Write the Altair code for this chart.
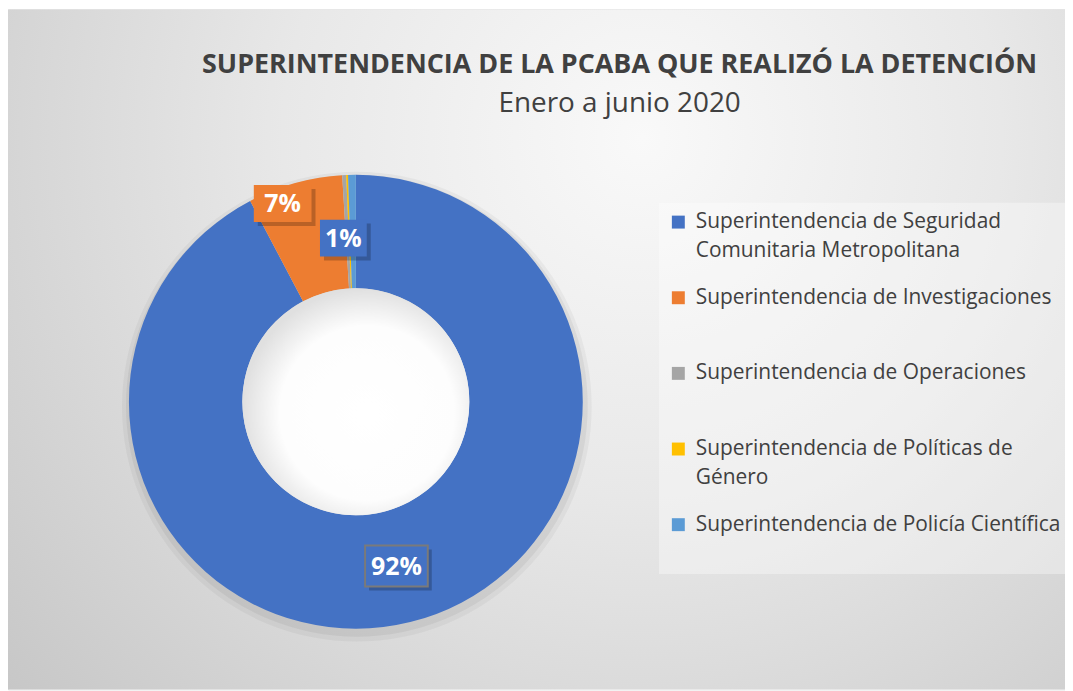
import altair as alt
import pandas as pd

# ---- data -------------------------------------------------------------
cats = [
    "Superintendencia de Seguridad Comunitaria Metropolitana",
    "Superintendencia de Investigaciones",
    "Superintendencia de Operaciones",
    "Superintendencia de Políticas de Género",
    "Superintendencia de Policía Científica",
]
values = [92.3, 6.75, 0.28, 0.13, 0.55]   # percent share
order = [0, 1, 2, 3, 4]
colors = ["#4472C4", "#ED7D31", "#A5A5A5", "#FFC000", "#5B9BD5"]

title_text = "SUPERINTENDENCIA DE LA PCABA QUE REALIZÓ LA DETENCIÓN"
subtitle_text = "Enero a junio 2020"

df = pd.DataFrame({"cat": cats, "value": values, "order": order})

# ---- style ------------------------------------------------------------
W, H = 1062, 683
CX, CY = 349.5, 394
R_OUT, R_IN = 228, 114
FONT = "Open Sans"
TXT = "#404040"
TWO_PI = 6.283185

color_scale = alt.Scale(domain=cats, range=colors)

bg_gradient = {
    "gradient": "radial",
    "x1": 0.6, "y1": 0.3, "r1": 0,
    "x2": 0.6, "y2": 0.3, "r2": 0.85,
    "stops": [
        {"offset": 0, "color": "#f9f9f9"},
        {"offset": 0.4, "color": "#e8e8e8"},
        {"offset": 1, "color": "#c3c3c3"},
    ],
}

hole_gradient = {
    "gradient": "radial",
    "x1": 0.55, "y1": 0.55, "r1": 0,
    "x2": 0.55, "y2": 0.55, "r2": 0.55,
    "stops": [
        {"offset": 0, "color": "#ffffff"},
        {"offset": 0.7, "color": "#fdfdfd"},
        {"offset": 1, "color": "#e0e0e0"},
    ],
}

single = alt.Chart(df).transform_aggregate(total="sum(value)")

background = single.mark_rect(fill=bg_gradient).encode(
    x=alt.value(0), x2=alt.value(W), y=alt.value(0), y2=alt.value(H)
)

shadow1 = single.mark_arc(
    innerRadius=R_IN + 2, outerRadius=R_OUT + 8, theta=0, theta2=TWO_PI,
    fill="#000000", opacity=0.04,
).encode(x=alt.value(CX + 1), y=alt.value(CY + 5))
shadow2 = single.mark_arc(
    innerRadius=R_IN + 2, outerRadius=R_OUT + 4, theta=0, theta2=TWO_PI,
    fill="#000000", opacity=0.05,
).encode(x=alt.value(CX + 1), y=alt.value(CY + 4))

hole = single.mark_arc(
    innerRadius=0, outerRadius=R_IN, theta=0, theta2=TWO_PI,
    fill=hole_gradient,
).encode(x=alt.value(CX), y=alt.value(CY))

label_expr = (
    "datum.label == 'Superintendencia de Seguridad Comunitaria Metropolitana' ? "
    "['Superintendencia de Seguridad', 'Comunitaria Metropolitana'] : "
    "datum.label == 'Superintendencia de Políticas de Género' ? "
    "['Superintendencia de Políticas de', 'Género'] : datum.label"
)

donut = alt.Chart(df).mark_arc(innerRadius=R_IN, outerRadius=R_OUT).encode(
    theta=alt.Theta("value:Q", stack=True),
    order=alt.Order("order:Q"),
    color=alt.Color(
        "cat:N",
        scale=color_scale,
        sort=cats,
        legend=alt.Legend(
            title=" ",
            titleOrient="bottom",
            titleFontSize=18,
            titlePadding=12,
            orient="none",
            legendX=654,
            legendY=194,
            symbolType="square",
            symbolSize=169,
            symbolStrokeWidth=0,
            labelFont=FONT,
            labelFontSize=21,
            labelColor=TXT,
            labelLimit=420,
            labelOffset=7,
            gridAlign="all",
            rowPadding=25,
            padding=9,
            fillColor="rgba(255,255,255,0.35)",
            labelExpr=label_expr,
        ),
    ),
    x=alt.value(CX),
    y=alt.value(CY),
)


def label_layers(cat, r, dx, dy, bw, bh, fill, border):
    base = (
        alt.Chart(df)
        .transform_joinaggregate(total="sum(value)")
        .transform_window(cum="sum(value)", sort=[alt.SortField("order")], frame=[None, 0])
        .transform_calculate(mid="(datum.cum - datum.value / 2) / datum.total * 2 * PI")
        .transform_filter(alt.datum.cat == cat)
        .transform_calculate(
            lx=f"{CX} + {r} * sin(datum.mid) + {dx}",
            ly=f"{CY} - {r} * cos(datum.mid) + {dy}",
            label="format(datum.value / datum.total, '.0%')",
        )
        .transform_calculate(
            bx1=f"datum.lx - {bw / 2}",
            bx2=f"datum.lx + {bw / 2}",
            by1=f"datum.ly - {bh / 2}",
            by2=f"datum.ly + {bh / 2}",
            sx1=f"datum.lx - {bw / 2} + 4",
            sx2=f"datum.lx + {bw / 2} + 4",
            sy1=f"datum.ly - {bh / 2} + 4",
            sy2=f"datum.ly + {bh / 2} + 4",
        )
    )
    shadow = base.mark_rect(fill="#000000", opacity=0.22).encode(
        x=alt.X("sx1:Q", scale=None, axis=None),
        x2="sx2:Q",
        y=alt.Y("sy1:Q", scale=None, axis=None),
        y2="sy2:Q",
    )
    box_kwargs = dict(fill=fill)
    if border:
        box_kwargs.update(stroke=border, strokeWidth=2)
    box = base.mark_rect(**box_kwargs).encode(
        x=alt.X("bx1:Q", scale=None, axis=None),
        x2="bx2:Q",
        y=alt.Y("by1:Q", scale=None, axis=None),
        y2="by2:Q",
    )
    text = base.mark_text(
        font=FONT, fontSize=25, fontWeight="bold", color="#ffffff",
        align="center", baseline="middle", dy=1,
    ).encode(
        x=alt.X("lx:Q", scale=None, axis=None),
        y=alt.Y("ly:Q", scale=None, axis=None),
        text="label:N",
    )
    return [shadow, box, text]


labels = []
labels += label_layers(cats[0], 170, 0, 0, 63, 41, colors[0], "#7a7a7a")
labels += label_layers(cats[1], 212, -16.5, 5, 58, 37, colors[1], None)
labels += label_layers(cats[4], 164.5, -9.7, 0, 47, 37, colors[0], None)

chart = alt.layer(background, shadow1, shadow2, donut, hole, *labels).properties(
    width=W,
    height=H,
    autosize=alt.AutoSizeParams(type="none"),
    padding=0,
    title=alt.TitleParams(
        text=title_text,
        subtitle=subtitle_text,
        anchor="middle",
        dx=83.5,
        dy=114,
        font=FONT,
        fontSize=27,
        fontWeight="bold",
        color=TXT,
        subtitleFont=FONT,
        subtitleFontSize=28,
        subtitleColor=TXT,
        subtitlePadding=11,
    ),
).configure_view(
    stroke="#c6c6c6",
    strokeWidth=1,
).configure(
    background="#ffffff",
    style={"guide-label": {"lineHeight": 29}},
)

chart.save("out.html", embed_options={"renderer": "svg", "actions": False})
